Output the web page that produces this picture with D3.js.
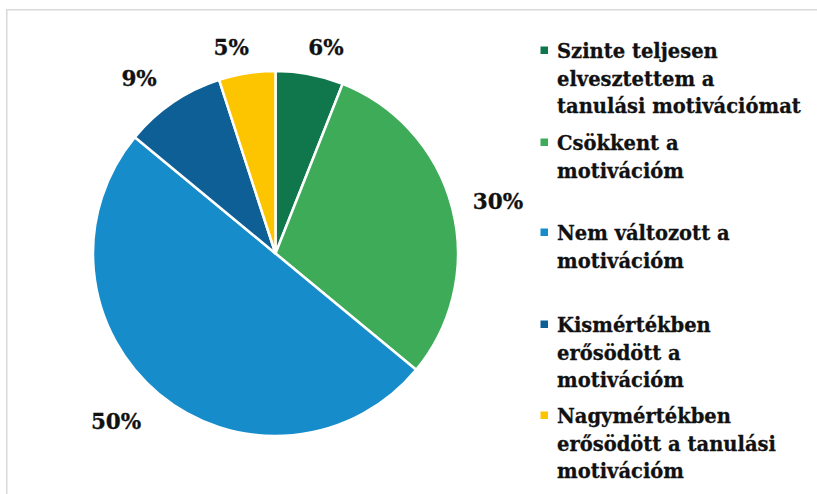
<!DOCTYPE html>
<html><head><meta charset="utf-8">
<script src="https://cdn.jsdelivr.net/npm/d3@7/dist/d3.min.js"></script>
<style>html,body{margin:0;padding:0;background:#fff;}svg{display:block;}</style>
</head><body>
<svg id="chart" width="817" height="494"></svg>
<script>
const categories = [
  ["Szinte teljesen", "elvesztettem a", "tanulási motivációmat"],
  ["Csökkent a", "motivációm"],
  ["Nem változott a", "motivációm"],
  ["Kismértékben", "erősödött a", "motivációm"],
  ["Nagymértékben", "erősödött a tanulási", "motivációm"]
];
const values = [6, 30, 50, 9, 5];
const labels = ["6%", "30%", "50%", "9%", "5%"];
const colors = ["#10764b", "#3dab58", "#178ccb", "#0d5f96", "#fdc400"];

const svg = d3.select("#chart");
const font = "'DejaVu Serif', serif";

// frame
svg.append("path").attr("d", "M6.75,494 V9.75 H817")
  .attr("fill", "none").attr("stroke", "#d9d9d9").attr("stroke-width", 1.5);

const cx = 275.5, cy = 253.5, r = 182.5;
const pie = d3.pie().sort(null).value(d => d)(values);
const arc = d3.arc().innerRadius(0).outerRadius(r);
const g = svg.append("g").attr("transform", `translate(${cx},${cy})`);

g.selectAll("path.slice").data(pie).enter().append("path")
  .attr("class", "slice")
  .attr("d", arc)
  .attr("fill", (d, i) => colors[i])
  .attr("stroke", "#fff").attr("stroke-width", 2.5).attr("stroke-linejoin", "round");

// data labels
const labelArc = d3.arc().innerRadius(r + 30).outerRadius(r + 30);
const nudge = [[10.7, 3], [16.7, 1], [-24, 4.5], [-17, 0.5], [-11, 3.5]];
g.selectAll("text.lbl").data(pie).enter().append("text")
  .attr("class", "lbl")
  .attr("x", (d, i) => labelArc.centroid(d)[0] + nudge[i][0])
  .attr("y", (d, i) => labelArc.centroid(d)[1] + nudge[i][1])
  .attr("text-anchor", "middle").attr("dominant-baseline", "central")
  .attr("font-family", font).attr("font-weight", "bold").attr("font-size", 21.5)
  .attr("fill", "#111")
  .attr("stroke", "#111").attr("stroke-width", 0.3)
  .text((d, i) => labels[i]);

// legend
const firstBaselines = [58, 150, 240, 332, 423];
const lineH = 27.7;
const leg = svg.append("g");
categories.forEach((lines, i) => {
  const y0 = firstBaselines[i];
  leg.append("rect").attr("x", 540.5).attr("y", y0 - 11.5).attr("width", 7.5).attr("height", 7.5)
    .attr("fill", colors[i]);
  const t = leg.append("text").attr("font-family", font).attr("font-weight", "bold")
    .attr("font-size", 19.5).attr("fill", "#111")
    .attr("stroke", "#111").attr("stroke-width", 0.3);
  lines.forEach((ln, j) => {
    t.append("tspan").attr("x", 557).attr("y", y0 + j * lineH).text(ln);
  });
});
</script>
</body></html>
